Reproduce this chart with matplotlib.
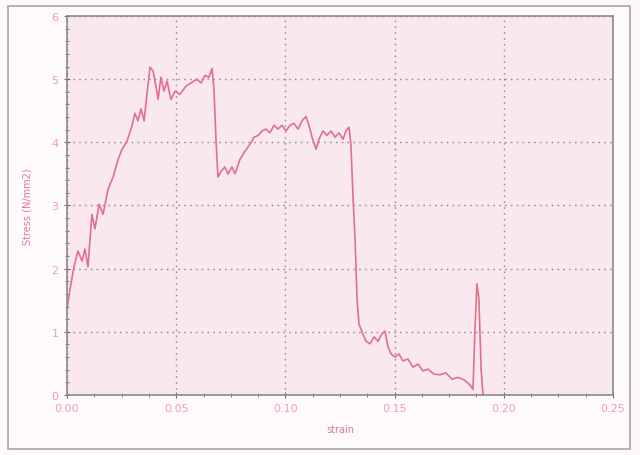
import matplotlib
matplotlib.use("Agg")
import matplotlib.pyplot as plt
from matplotlib.patches import Rectangle
from matplotlib.ticker import MultipleLocator

strain = [0.0000, 0.0014, 0.0032, 0.0050, 0.0069, 0.0082, 0.0096, 0.0114, 0.0128, 0.0147,
          0.0165, 0.0188, 0.0211, 0.0234, 0.0252, 0.0275, 0.0298, 0.0311, 0.0325, 0.0339,
          0.0353, 0.0366, 0.0380, 0.0394, 0.0408, 0.0417, 0.0430, 0.0444, 0.0458, 0.0476,
          0.0495, 0.0517, 0.0545, 0.0572, 0.0595, 0.0614, 0.0632, 0.0650, 0.0664, 0.0673,
          0.0682, 0.0691, 0.0705, 0.0723, 0.0737, 0.0755, 0.0769, 0.0792, 0.0815, 0.0838,
          0.0856, 0.0875, 0.0893, 0.0911, 0.0929, 0.0948, 0.0966, 0.0984, 0.1003, 0.1021,
          0.1039, 0.1058, 0.1076, 0.1094, 0.1108, 0.1122, 0.1140, 0.1154, 0.1172, 0.1190,
          0.1209, 0.1227, 0.1245, 0.1264, 0.1277, 0.1291, 0.1300, 0.1310, 0.1319, 0.1328,
          0.1337, 0.1351, 0.1369, 0.1387, 0.1406, 0.1424, 0.1442, 0.1456, 0.1470, 0.1484,
          0.1502, 0.1520, 0.1538, 0.1561, 0.1584, 0.1607, 0.1630, 0.1653, 0.1680, 0.1708,
          0.1735, 0.1763, 0.1790, 0.1818, 0.1845, 0.1859, 0.1868, 0.1877, 0.1886, 0.1896,
          0.1905]
stress = [1.36, 1.68, 2.03, 2.28, 2.12, 2.31, 2.03, 2.86, 2.63, 3.02,
          2.86, 3.26, 3.45, 3.73, 3.89, 4.02, 4.27, 4.46, 4.34, 4.53,
          4.34, 4.76, 5.19, 5.13, 4.87, 4.68, 5.03, 4.81, 4.97, 4.68,
          4.81, 4.76, 4.89, 4.95, 5.00, 4.94, 5.06, 5.03, 5.17, 4.84,
          4.05, 3.45, 3.54, 3.61, 3.50, 3.61, 3.50, 3.73, 3.86, 3.97,
          4.08, 4.11, 4.18, 4.21, 4.15, 4.27, 4.21, 4.27, 4.18, 4.27,
          4.30, 4.21, 4.34, 4.41, 4.27, 4.08, 3.89, 4.05, 4.18, 4.11,
          4.18, 4.08, 4.15, 4.05, 4.18, 4.24, 3.97, 3.10, 2.47, 1.52,
          1.12, 1.00, 0.85, 0.81, 0.92, 0.85, 0.97, 1.01, 0.76, 0.65,
          0.60, 0.65, 0.54, 0.57, 0.44, 0.49, 0.38, 0.41, 0.33, 0.32,
          0.35, 0.25, 0.28, 0.24, 0.16, 0.09, 1.04, 1.76, 1.52, 0.41,
          0.00]

x_ticks = [0.00, 0.05, 0.10, 0.15, 0.20, 0.25]
x_labels = ["0.00", "0.05", "0.10", "0.15", "0.20", "0.25"]
y_ticks = [0, 1, 2, 3, 4, 5, 6]

fig = plt.figure(figsize=(6.4, 4.56), dpi=100, facecolor="#fdf8f9")
frame = Rectangle((0.012, 0.013), 0.973, 0.972, transform=fig.transFigure,
                  fill=True, facecolor="#fefafb", edgecolor="#a9a4a6", lw=1.2, zorder=-10)
fig.patches.append(frame)
ax = fig.add_axes([0.1047, 0.1316, 0.8531, 0.8311])
ax.set_zorder(5)
ax.set_facecolor("#f9e8ef")
ax.plot(strain, stress, color="#e2708a", lw=1.2)
ax.set_xlim(0, 0.25)
ax.set_ylim(0, 6)
ax.set_xticks(x_ticks)
ax.set_xticklabels(x_labels)
ax.set_yticks(y_ticks)
ax.xaxis.set_minor_locator(MultipleLocator(0.0125))
ax.yaxis.set_minor_locator(MultipleLocator(0.2))
ax.grid(True, which="major", color="#958f93", linestyle=(0, (1.2, 3)), lw=1.0)
lc = "#eda0ae"
ax.tick_params(axis="both", which="major", direction="inout", length=5, color="#6f6a6c",
               labelcolor=lc, labelsize=8)
ax.tick_params(axis="both", which="minor", direction="inout", length=3, color="#6f6a6c")
for s in ax.spines.values():
    s.set_color("#8e898b")
    s.set_linewidth(1.2)
ax.set_xlabel("strain", color="#e07a8e", fontsize=7, labelpad=8)
ax.set_ylabel("Stress (N/mm2)", color="#e07a8e", fontsize=7, labelpad=14)
fig.savefig("out.png", dpi=100, facecolor=fig.get_facecolor())
